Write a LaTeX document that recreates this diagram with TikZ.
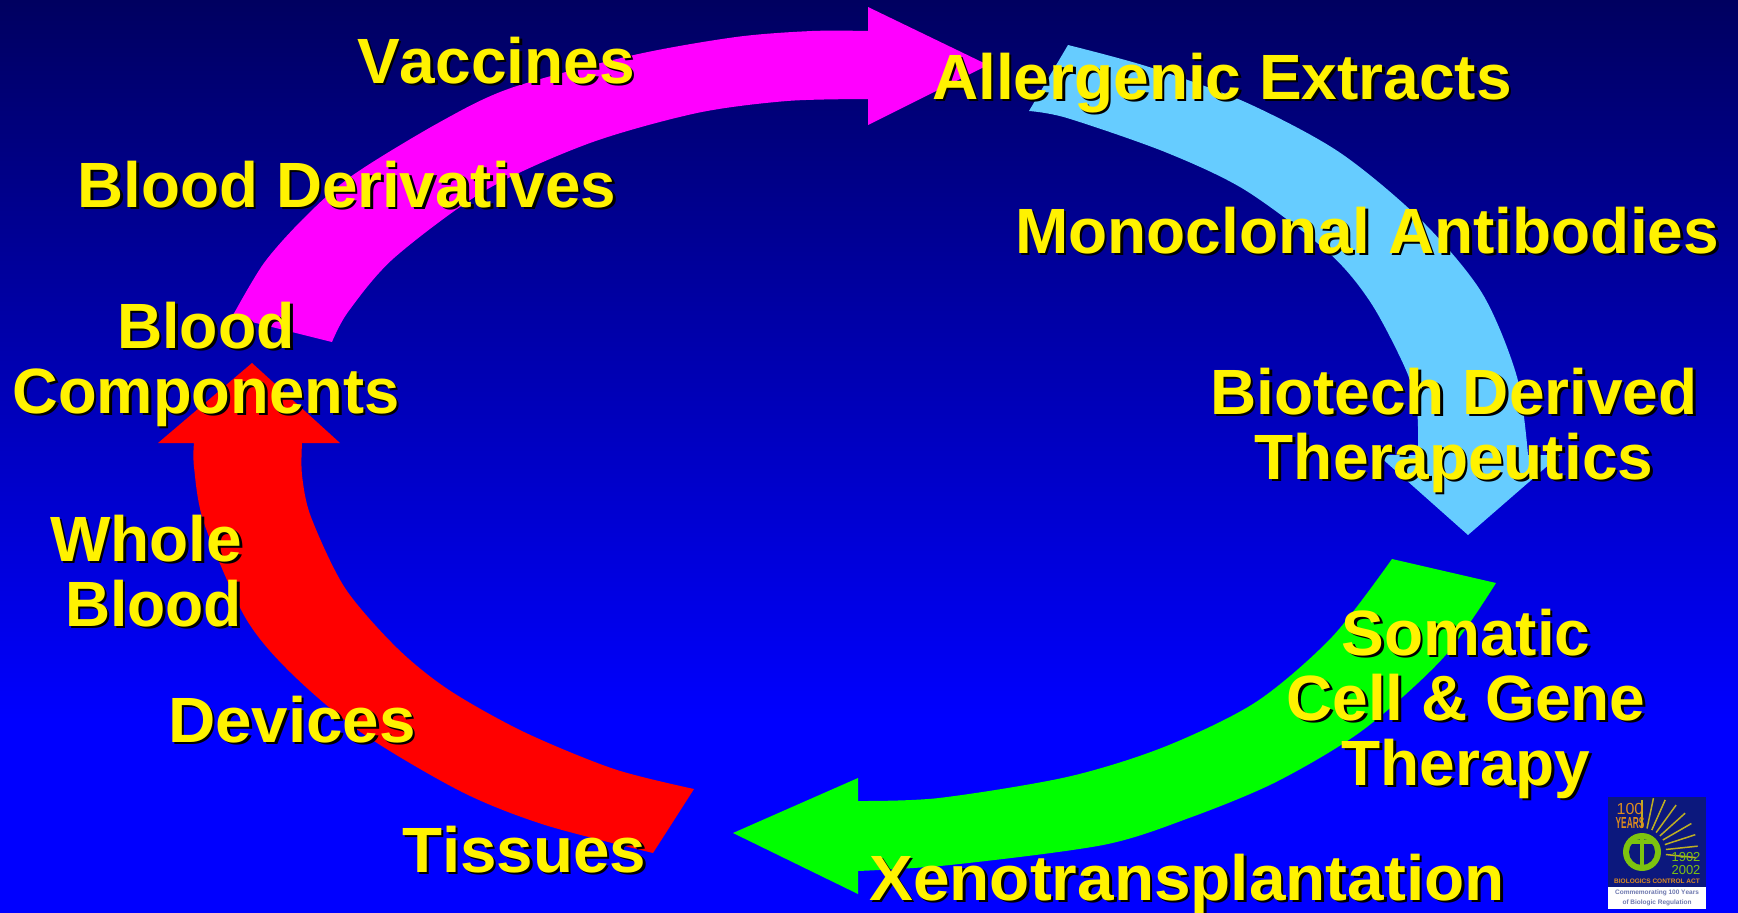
\documentclass[tikz,border=0pt]{standalone}
\usepackage{fontspec}
\setmainfont[Kerning=Off]{Liberation Sans}
\definecolor{bgtop}{RGB}{0,0,96}
\definecolor{bgblue}{RGB}{0,0,255}
\definecolor{skyarrow}{RGB}{102,204,255}
\definecolor{pinkarrow}{RGB}{255,0,255}
\definecolor{greenarrow}{RGB}{0,255,0}
\definecolor{redarrow}{RGB}{255,0,0}
\definecolor{logonavy}{RGB}{12,24,125}
\definecolor{logoorange}{RGB}{222,140,30}
\definecolor{logogreen}{RGB}{125,195,15}
\definecolor{logoray}{RGB}{190,175,35}
\definecolor{logotext}{RGB}{110,120,175}
\newcommand{\shd}[1]{\leavevmode\rlap{\kern2.6pt\raisebox{-2.6pt}{\textcolor{black}{#1}}}#1}
\tikzset{
  lbl/.style={anchor=base,inner sep=0pt,outer sep=0pt,text=yellow,align=center,
    font=\fontsize{64}{65}\selectfont\bfseries},
  ray/.style={logoray,line width=1.5pt},
  tiny/.style={inner sep=0pt,font=\fontsize{6.5}{6.5}\selectfont\bfseries}
}
\begin{document}
\begin{tikzpicture}[x=1pt,y=-1pt]
\useasboundingbox (0,0) rectangle (1738,913);
\shade[top color=bgtop,bottom color=bgblue] (0,0) rectangle (1738,720);
\fill[bgblue] (0,719) rectangle (1738,913);
% magenta arrow
\fill[pinkarrow] (232,317)
  -- plot[smooth] coordinates {(232,317) (264,263) (305,217) (353,175) (440,122) (511,88) (634,55) (736,37) (812,31) (868,31)}
  -- (868,7) -- (988,65) -- (868,125) -- (868,99)
  -- plot[smooth] coordinates {(868,99) (787,101) (697,113) (590,143) (486,190) (394,258) (348,312) (332,342)}
  -- cycle;
% light blue arrow
\fill[skyarrow] (1068,45)
  -- plot[smooth] coordinates {(1068,45) (1149,67) (1245,102) (1339,152) (1421,220) (1482,293) (1517,377) (1528,455)}
  -- (1560,455) -- (1468,535) -- (1378,455) -- (1418,455)
  -- plot[smooth] coordinates {(1418,455) (1417,410) (1406,370) (1371,303) (1329,253) (1245,190) (1165,152) (1067,118) (1029,111)}
  -- cycle;
% green arrow
\fill[greenarrow] (1392,559) -- (1496,583)
  -- plot[smooth] coordinates {(1496,583) (1444,657) (1363,730) (1276,782) (1189,818) (1103,845) (950,865) (858,871)}
  -- (858,894) -- (733,833) -- (858,778) -- (858,801)
  -- plot[smooth] coordinates {(858,801) (939,798) (1067,777) (1164,747) (1256,702) (1332,637) (1392,559)}
  -- cycle;
% red arrow
\fill[redarrow] (694,789)
  -- plot[smooth] coordinates {(694,789) (614,769) (524,732) (449,690) (397,648) (345,588) (311,517) (302,475) (302,443)}
  -- (340,443) -- (252,363) -- (158,443) -- (194,443)
  -- plot[smooth] coordinates {(194,443) (194,467) (204,523) (245,617) (290,672) (362,733) (462,792) (545,825) (653,853)}
  -- cycle;
% labels
\node[lbl] (vac) at (496,83) {\shd{Vaccines}};
\node[lbl,xscale=.996,transform shape] (der) at (347,207) {\shd{Blood Derivatives}};
\node[lbl,xscale=.989,transform shape] (cmp) at (206,413) {\shd{\scalebox{.99}[1]{Blood}}\\\shd{Components}};
\node[lbl,align=right,anchor=base east] (whl) at (242,626) {\shd{Whole}\\\shd{\scalebox{.975}[1]{Blood}}};
\node[lbl,xscale=1.023,transform shape] (dev) at (292,742) {\shd{Devices}};
\node[lbl,xscale=1.023,transform shape] (tis) at (524,872) {\shd{Tissues}};
\node[lbl] (all) at (1222,99) {\shd{Allergenic Extracts}};
\node[lbl] (mab) at (1367,253) {\shd{Monoclonal Antibodies}};
\node[lbl] (bio) at (1454,479) {\shd{Biotech Derived}\\\shd{Therapeutics}};
\node[lbl] (som) at (1466,785) {\shd{Somatic}\\\shd{Cell \& Gene}\\\shd{Therapy}};
\node[lbl,xscale=1.027,transform shape] (xen) at (1187,900) {\shd{Xenotransplantation}};
% logo
\fill[white] (1608,797) rectangle (1706,909);
\fill[logonavy] (1608,797) rectangle (1706,887);
\foreach \a/\r in {90/28,78/31,66/33,54/34,42/34,30/33,18/32,6/32,-6/30}
  \draw[ray] (1642,852) ++(-\a:24) -- ++(-\a:\r);
\fill[logogreen] (1642,852) circle (19);
\fill[logonavy] (1642,852) circle (13);
\draw[logogreen,line width=4pt] (1642,838) -- (1642,868) (1631,842) -- (1653,842);
\node[inner sep=0pt,text=logoorange,font=\fontsize{16}{16}\selectfont] (yr) at (1630,809) {100};
\node[inner sep=0pt,text=logoorange,xscale=.52,transform shape,font=\fontsize{16}{16}\selectfont\bfseries] (ys) at (1630,823) {YEARS};
\node[inner sep=0pt,text=logogreen,font=\fontsize{13}{13}\selectfont] (ya) at (1686,857) {1902};
\node[inner sep=0pt,text=logogreen,font=\fontsize{13}{13}\selectfont] (yb) at (1686,870) {2002};
\node[tiny,text=logoorange] (act) at (1657,881) {BIOLOGICS CONTROL ACT};
\node[tiny,text=logotext] (cm1) at (1657,893) {Commemorating 100 Years};
\node[tiny,text=logotext] (cm2) at (1657,903) {of Biologic Regulation};
\end{tikzpicture}
\end{document}
